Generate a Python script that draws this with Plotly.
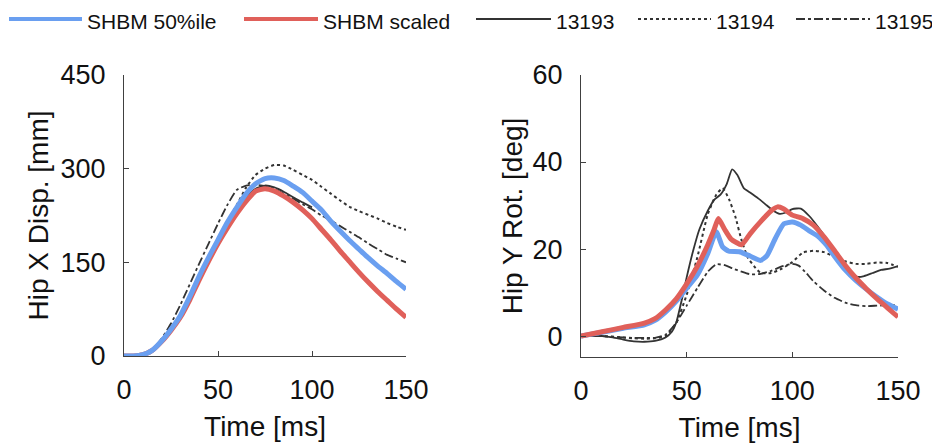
import plotly.graph_objects as go

# ---- data ----
# Left panel: Hip X displacement [mm], sampled every 5 ms
t_disp = [0, 5, 10, 15, 20, 25, 30, 35, 40, 45, 50, 55, 60, 65, 70, 75, 80, 85,
          90, 95, 100, 105, 110, 115, 120, 125, 130, 135, 140, 145, 150]
disp_50 = [0, 0, 2, 9, 24, 43, 65, 95, 128, 158, 186, 214, 238, 260, 276, 284, 285, 281,
           272, 262, 248, 234, 216, 200, 185, 171, 157, 144, 132, 119, 107]
disp_scaled = [0, 0, 2, 9, 23, 41, 62, 90, 122, 152, 180, 205, 228, 248, 264, 268, 264, 256,
               246, 234, 220, 203, 186, 168, 151, 134, 118, 103, 89, 75, 62]
t_disp_13193 = [0, 5, 10, 15, 20, 25, 30, 35, 40, 45, 50, 55, 60, 65, 70, 75, 80, 85,
                90, 95, 100]
disp_13193 = [0, 0, 2, 10, 25, 44, 66, 93, 126, 157, 185, 211, 234, 254, 268, 273, 270, 263,
              254, 246, 238]
disp_13194 = [0, 0, 2, 9, 24, 43, 65, 93, 127, 158, 187, 215, 242, 270, 290, 300, 306, 305,
              298, 290, 282, 271, 260, 249, 239, 232, 226, 220, 213, 207, 202]
disp_13195 = [0, 0, 2, 10, 28, 52, 82, 115, 148, 180, 212, 242, 266, 273, 274, 272, 268, 260,
              252, 243, 235, 225, 217, 208, 199, 190, 180, 171, 162, 156, 150]

# Right panel: Hip Y rotation [deg]
t_rot_50 = [0, 10, 20, 30, 35, 40, 45, 50, 55, 60, 64, 67, 70, 75, 80, 85, 88, 92, 96,
            100, 104, 108, 112, 116, 120, 125, 130, 135, 140, 145, 150]
rot_50 = [0, 0.9, 1.8, 2.6, 3.6, 5.5, 8, 11, 14, 19, 24, 20.5, 19.5, 19.4, 18.4, 17.4, 18.5,
          22.5, 25.8, 26.2, 25.5, 24.2, 23, 21, 18.3, 15.2, 12.8, 10.8, 9.0, 7.4, 6.2]
t_rot_scaled = [0, 10, 20, 30, 35, 40, 45, 50, 55, 60, 63, 65, 68, 71, 76, 80, 85, 90, 93,
                96, 100, 105, 110, 115, 120, 125, 130, 135, 140, 145, 150]
rot_scaled = [0, 1.0, 2.0, 3.0, 4.0, 6.0, 8.5, 12, 16, 21, 24.5, 27, 24.5, 22.3, 21, 23.5,
              26.3, 28.8, 29.7, 29.2, 27.8, 27, 25.5, 22.8, 19.6, 16.3, 13.4, 10.9, 8.6, 6.5, 4.4]
t_rot_13193 = [0, 10, 15, 20, 25, 30, 35, 40, 43, 45, 48, 50, 53, 56, 60, 63, 66, 69, 71.5,
               74, 77, 80, 84, 88, 91, 94, 97, 100, 104, 108, 112, 116, 120, 124, 128, 131,
               134, 138, 142, 146, 150]
rot_13193 = [0, 0, -0.3, -0.8, -1.2, -1.3, -1.1, -0.3, 1, 3, 9, 13.5, 19.5, 24.5, 28.8, 31.3,
             32.5, 35, 38.3, 37, 34, 33, 31.6, 30, 28.8, 28.1, 28.4, 29.2, 29.3, 27.6, 25.2,
             22.5, 19.5, 16.5, 14.3, 13.6, 13.8, 14.5, 15.2, 15.5, 16.1]
t_rot_13194 = [0, 10, 20, 25, 30, 35, 40, 45, 50, 55, 60, 64, 67, 70, 73, 76, 79, 82, 85,
               90, 95, 100, 105, 110, 115, 120, 125, 130, 135, 140, 145, 150]
rot_13194 = [0, 0, -0.3, -0.5, -0.6, -0.5, 0, 3, 9.5, 18, 28, 32.5, 34, 31.5, 27.5, 22, 18,
             16, 14.5, 14.5, 15.5, 17, 19.2, 19.6, 19.3, 18.2, 17.2, 16.6, 16.6, 16.9, 16.8, 15.9]
t_rot_13195 = [0, 10, 20, 25, 30, 35, 40, 45, 50, 55, 60, 64, 68, 72, 76, 80, 85, 90, 95,
               100, 103, 106, 110, 115, 120, 125, 130, 135, 140, 145, 150]
rot_13195 = [0, 0, -0.3, -0.4, -0.4, -0.4, 0.3, 3, 7, 11, 14.8, 16.5, 16.3, 15.5, 14.8, 14.2,
             14.3, 15, 16, 16.6, 16.2, 14.8, 12.6, 10.5, 8.8, 7.7, 7.1, 6.9, 7, 7.1, 7.1]

x_ticks = [0, 50, 100, 150]
disp_ticks = [0, 150, 300, 450]
rot_ticks = [0, 20, 40, 60]

# ---- styles ----
FONT = "Liberation Sans, Arial, sans-serif"
BLUE = "#6a9ff0"
RED = "#e0605a"
DARK = "#333333"
styles = {
    "SHBM 50%ile": dict(color=BLUE, width=5, dash="solid"),
    "SHBM scaled": dict(color=RED, width=5, dash="solid"),
    "13193": dict(color=DARK, width=1.8, dash="solid"),
    "13194": dict(color=DARK, width=2, dash="dot"),
    "13195": dict(color=DARK, width=1.8, dash="dashdot"),
}

fig = go.Figure()


def add(x, y, name, xa, ya):
    fig.add_trace(go.Scatter(x=x, y=y, mode="lines", name=name, showlegend=False,
                             line=dict(shape="spline", smoothing=0.5, **styles[name]),
                             xaxis=xa, yaxis=ya))


# black test curves first, model curves on top
add(t_disp_13193, disp_13193, "13193", "x", "y")
add(t_disp, disp_13194, "13194", "x", "y")
add(t_disp, disp_13195, "13195", "x", "y")
add(t_disp, disp_scaled, "SHBM scaled", "x", "y")
add(t_disp, disp_50, "SHBM 50%ile", "x", "y")

add(t_rot_13193, rot_13193, "13193", "x2", "y2")
add(t_rot_13194, rot_13194, "13194", "x2", "y2")
add(t_rot_13195, rot_13195, "13195", "x2", "y2")
add(t_rot_50, rot_50, "SHBM 50%ile", "x2", "y2")
add(t_rot_scaled, rot_scaled, "SHBM scaled", "x2", "y2")

# the page body has an 8px margin, so the figure is 8px smaller and positions shift by 8
OFF = 8
W, H = 940 - OFF, 444 - OFF


def fx(px):
    return (px - OFF) / W


def fy(py):
    return 1 - (py - OFF) / H


axis_common = dict(showline=True, linecolor="#404040", linewidth=1, ticks="inside",
                   ticklen=5, tickcolor="#404040", showgrid=False, zeroline=False,
                   automargin=False, tickfont=dict(size=27, color="#111"))
title_font = dict(size=28, color="#111")

fig.update_layout(
    width=W, height=H, margin=dict(l=0, r=0, t=0, b=0),
    paper_bgcolor="white", plot_bgcolor="white",
    font=dict(family=FONT, color="#111"),
    showlegend=False,
    xaxis=dict(domain=[fx(124), fx(406)], range=[0, 150], tickvals=x_ticks,
               ticklabelstandoff=10,
               title=dict(text="Time [ms]", font=title_font, standoff=11),
               anchor="y", **axis_common),
    yaxis=dict(domain=[fy(356), fy(75)], range=[0, 450], tickvals=disp_ticks,
               ticklabelstandoff=12,
               title=dict(text="Hip X Disp. [mm]", font=title_font, standoff=3),
               anchor="x", **axis_common),
    xaxis2=dict(domain=[fx(581), fx(898)], range=[0, 150], tickvals=x_ticks,
                ticklabelstandoff=10,
                title=dict(text="Time [ms]", font=title_font, standoff=11),
                anchor="y2", **axis_common),
    yaxis2=dict(domain=[fy(357), fy(75)], range=[-4.8, 60], tickvals=rot_ticks,
                ticklabelstandoff=12,
                title=dict(text="Hip Y Rot. [deg]", font=title_font, standoff=1),
                anchor="x2", **axis_common),
)

# legend strip across the top, drawn by hand so the swatches are long like the original
legend_items = [("SHBM 50%ile", 9, 82), ("SHBM scaled", 244, 318), ("13193", 476, 551),
                ("13194", 638, 711), ("13195", 796, 870)]
ly = fy(19)
for name, x0, x1 in legend_items:
    st = styles[name]
    w = 4 if st["width"] > 3 else st["width"]
    fig.add_shape(type="line", xref="paper", yref="paper", x0=fx(x0), x1=fx(x1), y0=ly, y1=ly,
                  line=dict(color=st["color"], width=w, dash=st["dash"]))
    fig.add_annotation(xref="paper", yref="paper", x=fx(x1 + 3), y=1, text=name,
                       showarrow=False, xanchor="left", yanchor="top",
                       font=dict(size=21, color="#111"))

fig.write_html("out.html")
